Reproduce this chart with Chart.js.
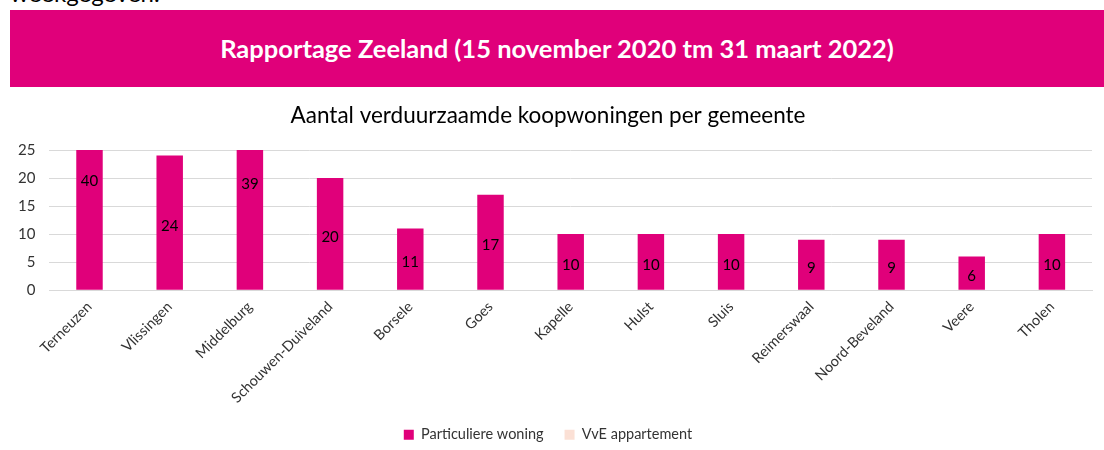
<!DOCTYPE html>
<html lang="nl">
  <head>
    <meta charset="UTF-8" />
    <title>Rapportage Zeeland</title>
    <script src="https://cdn.jsdelivr.net/npm/chart.js@4.4.0/dist/chart.umd.min.js"></script>
    <style>
      body { margin: 0; width: 1104px; height: 450px; overflow: hidden; background: #fff; font-family: Lato, sans-serif; position: relative; }
      .prev { position: absolute; left: 10px; top: -21px; font-size: 24px; color: #000; line-height: 28px; }
      .banner { position: absolute; left: 10px; top: 10px; width: 1094px; height: 77px; background: #e0007a; color: #fff;
        font-weight: bold; font-size: 25.5px; display: flex; align-items: center; justify-content: center; }
      .banner span { margin-top: -2px; }
      .chart-view { position: absolute; left: 0; top: 92px; width: 1104px; height: 366px; }
    </style>
  </head>
  <body>
    <div class="prev">weekgegeven.</div>
    <div class="banner"><span>Rapportage Zeeland (15 november 2020 tm 31 maart 2022)</span></div>
    <div class="chart-view"><canvas id="chart"></canvas></div>

    <script>
      const gemeenten = ['Terneuzen', 'Vlissingen', 'Middelburg', 'Schouwen-Duiveland', 'Borsele', 'Goes',
        'Kapelle', 'Hulst', 'Sluis', 'Reimerswaal', 'Noord-Beveland', 'Veere', 'Tholen'];
      const particulier = [40, 24, 39, 20, 11, 17, 10, 10, 10, 9, 9, 6, 10];
      const vve = [0, 0, 0, 0, 0, 0, 0, 0, 0, 0, 0, 0, 0];
      const yTicks = [0, 5, 10, 15, 20, 25];

      // labels sit in the middle of the real value, even when the bar is cut off at 25
      const barLabels = {
        id: 'barLabels',
        afterDatasetsDraw(chart) {
          const ctx = chart.ctx;
          const y = chart.scales.y;
          const meta = chart.getDatasetMeta(0);
          ctx.save();
          ctx.font = '15px Lato';
          ctx.fillStyle = '#000';
          ctx.textAlign = 'center';
          ctx.textBaseline = 'middle';
          meta.data.forEach((bar, i) => {
            ctx.fillText(particulier[i], bar.x, y.getPixelForValue(particulier[i] / 2) + 3);
          });
          ctx.restore();
        }
      };

      const data = {
        labels: gemeenten,
        datasets: [
          {
            label: 'Particuliere woning',
            data: particulier,
            backgroundColor: '#e0007a',
            barPercentage: 0.33,
            categoryPercentage: 1
          },
          {
            label: 'VvE appartement',
            data: vve,
            backgroundColor: '#fbe0d5',
            barPercentage: 0.33,
            categoryPercentage: 1
          }
        ]
      };

      const config = {
        type: 'bar',
        data: data,
        options: {
          responsive: true,
          maintainAspectRatio: false,
          animation: false,
          layout: { padding: { left: 4, right: 12, top: 0, bottom: 6 } },
          plugins: {
            title: {
              display: true,
              text: 'Aantal verduurzaamde koopwoningen per gemeente',
              color: '#000',
              font: { family: 'Lato', size: 22.5, weight: 'normal' },
              padding: { top: 10, bottom: 21 }
            },
            legend: {
              position: 'bottom',
              labels: {
                color: '#333',
                font: { family: 'Lato', size: 14.5 },
                boxWidth: 10,
                boxHeight: 10,
                padding: 21
              }
            },
            tooltip: { enabled: false }
          },
          scales: {
            x: {
              stacked: true,
              grid: { display: false },
              border: { color: '#d9d9d9' },
              ticks: {
                color: '#333',
                font: { family: 'Lato', size: 14.5 },
                maxRotation: 45,
                minRotation: 45,
                padding: 0
              }
            },
            y: {
              stacked: true,
              min: 0,
              max: 25,
              afterBuildTicks(axis) {
                axis.ticks = yTicks.map((v) => ({ value: v }));
              },
              grid: { color: '#d9d9d9', drawTicks: false },
              border: { display: false },
              ticks: {
                color: '#333',
                font: { family: 'Lato', size: 15 },
                padding: 14
              }
            }
          }
        },
        plugins: [barLabels]
      };

      const ctx = document.getElementById('chart');
      const chart = new Chart(ctx, config);
    </script>
  </body>
</html>
